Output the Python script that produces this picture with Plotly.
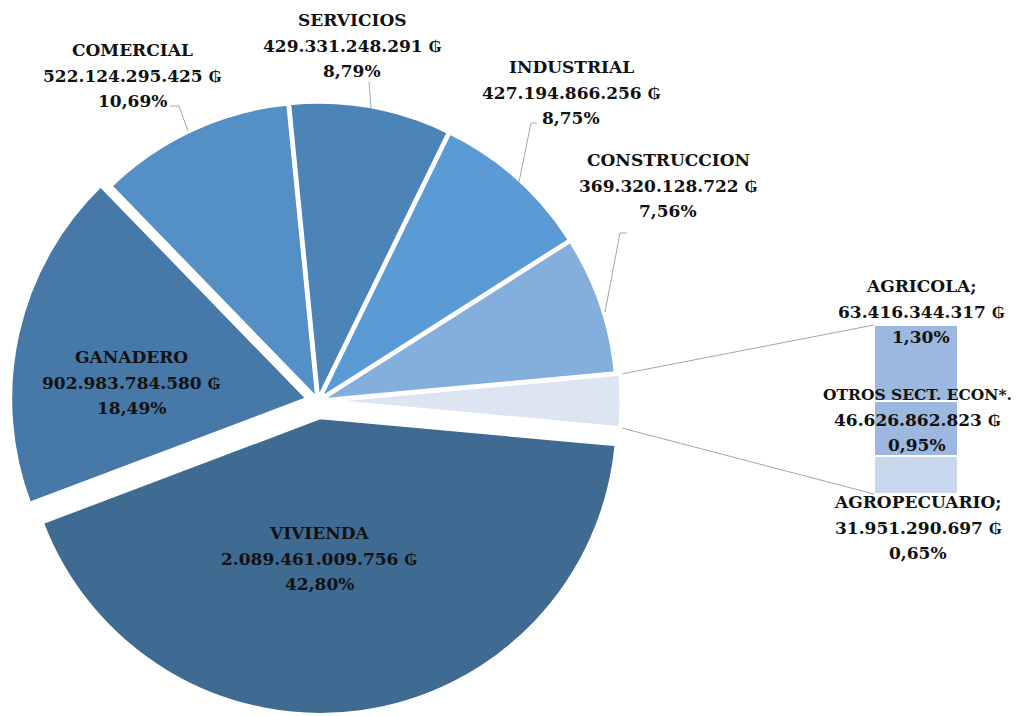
import math
import plotly.graph_objects as go

W, H = 1018, 716

# ---------------- data ----------------
sectors = ["VIVIENDA", "GANADERO", "COMERCIAL", "SERVICIOS", "INDUSTRIAL", "CONSTRUCCION"]
sector_values = [2089461009756, 902983784580, 522124295425, 429331248291, 427194866256, 369320128722]
sector_pcts = [42.80, 18.49, 10.69, 8.79, 8.75, 7.56]
sector_colors = ["#3F6A92", "#4678A8", "#5490C6", "#4D84B7", "#5B9BD5", "#84AEDC"]

small_sectors = ["AGRICOLA;", "OTROS SECT. ECON*.", "AGROPECUARIO;"]
small_values = [63416344317, 46626862823, 31951290697]
small_pcts = [1.30, 0.95, 0.65]
small_colors = ["#9CB8E0", "#9CB8E0", "#C9D7EC"]
other_color = "#DDE5F3"

# ---------------- helpers ----------------
def fmt_val(v):
    return f"{v:,}".replace(",", ".") + " \u20b2"

def fmt_pct(p):
    return f"{p:.2f}".replace(".", ",") + "%"

def px(x):
    return x / W

def py(y):
    return 1 - y / H

# ---------------- pie ----------------
pie_labels = ["OTROS"] + sectors
pie_values = [sum(small_values)] + sector_values
pie_colors = [other_color] + sector_colors
pulls = [0.02, 0.055, 0.035, 0.005, 0.005, 0.005, 0.005]
total = sum(pie_values)
other_deg = 360 * pie_values[0] / total
rotation = 90 - other_deg / 2

center = (318, 401)
half = 314
dom_x = [(center[0] - half) / W, (center[0] + half) / W]
dom_y = [max(0.0, py(center[1] + half)), py(center[1] - half)]

fig = go.Figure()
fig.add_trace(go.Pie(
    labels=pie_labels, values=pie_values, sort=False, direction="clockwise",
    rotation=rotation, pull=pulls,
    marker=dict(colors=pie_colors, line=dict(color="white", width=4)),
    textinfo="none", hoverinfo="label+value", showlegend=False,
    domain=dict(x=dom_x, y=dom_y),
))

# ---------------- bar (breakdown of "other") ----------------
bar_x_dom = [px(874), px(958)]
bar_y_dom = [py(494), py(325)]
for name, pct, col in reversed(list(zip(small_sectors, small_pcts, small_colors))):
    fig.add_trace(go.Bar(
        x=[0], y=[pct], width=[1], name=name,
        marker=dict(color=col, line=dict(color="white", width=2)),
        xaxis="x2", yaxis="y2", showlegend=False, hoverinfo="name+y",
    ))

# ---------------- connectors from pie to bar ----------------
r = 2 * half / (2 + 2 * max(pulls))
a_mid = math.radians(rotation + other_deg / 2)
cx = center[0] + pulls[0] * r * math.sin(a_mid)
cy = center[1] - pulls[0] * r * math.cos(a_mid)
shapes = []
for ang_deg, bar_y in [(rotation, bar_y_dom[1]), (rotation + other_deg, bar_y_dom[0])]:
    a = math.radians(ang_deg)
    x0 = cx + r * math.sin(a)
    y0 = cy - r * math.cos(a)
    shapes.append(dict(type="line", xref="paper", yref="paper",
                       x0=px(x0 + 2), y0=py(y0), x1=bar_x_dom[0], y1=bar_y,
                       line=dict(color="#A6A6A6", width=1)))

# leader lines for outside labels
leaders = [
    [(170, 106), (179, 106), (188, 131)],
    [(369, 82), (371, 108)],
    [(537, 123), (531, 123), (519, 182)],
    [(627, 233), (620, 233), (605, 312)],
]
for pts in leaders:
    path = "M " + " L ".join(f"{px(x)},{py(y)}" for x, y in pts)
    shapes.append(dict(type="path", xref="paper", yref="paper", path=path,
                       line=dict(color="#A6A6A6", width=1)))

# ---------------- labels ----------------
label_pos = {
    "VIVIENDA": (319, 533),
    "GANADERO": (131, 357),
    "COMERCIAL": (132, 50),
    "SERVICIOS": (352, 20),
    "INDUSTRIAL": (571, 67),
    "CONSTRUCCION": (668, 160),
    "AGRICOLA;": (921, 286),
    "OTROS SECT. ECON*.": (917, 394),
    "AGROPECUARIO;": (918, 502),
}
line_gap = 25.5
annotations = []
all_names = sectors + small_sectors
all_vals = sector_values + small_values
all_pcts = sector_pcts + small_pcts
for name, v, p in zip(all_names, all_vals, all_pcts):
    x, y = label_pos[name]
    for k, txt in enumerate([name, fmt_val(v), fmt_pct(p)]):
        size = 15.5 if (k == 0 and len(txt) > 14) else 17
        annotations.append(dict(
            text=txt, x=px(x), y=py(y + k * line_gap), xref="paper", yref="paper",
            xanchor="center", yanchor="middle", showarrow=False,
            font=dict(family="DejaVu Serif", size=size, color="#111111", weight="bold"),
        ))

fig.update_layout(
    width=W, height=H, margin=dict(l=0, r=0, t=0, b=0),
    paper_bgcolor="white", plot_bgcolor="rgba(0,0,0,0)",
    barmode="stack", bargap=0,
    xaxis2=dict(domain=bar_x_dom, anchor="y2", range=[-0.5, 0.5], visible=False, fixedrange=True),
    yaxis2=dict(domain=bar_y_dom, anchor="x2", range=[0, sum(small_pcts)], visible=False, fixedrange=True),
    shapes=shapes, annotations=annotations,
)

fig.write_html("out.html", config={"displayModeBar": False},
               post_script="document.body.style.margin='0px';")
